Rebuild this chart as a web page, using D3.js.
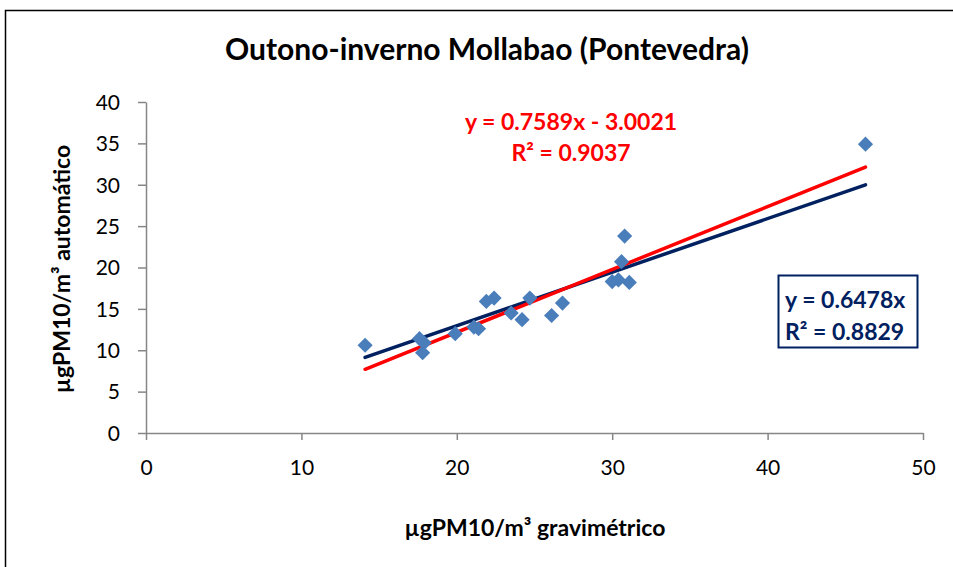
<!DOCTYPE html>
<html>
<head>
<meta charset="utf-8">
<script src="https://cdn.jsdelivr.net/npm/d3@7"></script>
<style>
  body { margin: 0; background: #fff; }
  text { font-family: Lato, "Open Sans", sans-serif; }
</style>
</head>
<body>
<div id="chart"></div>
<script>
// µgPM10/m3 gravimetric (x) vs automatic (y)
const gravimetrico = [14.1, 17.6, 17.9, 17.8, 19.9, 21.1, 21.4, 21.9, 22.4, 23.5, 24.2, 24.7, 26.1, 26.8, 30.0, 30.4, 30.6, 30.8, 31.1, 46.3];
const automatico = [10.6, 11.4, 10.9, 9.7, 12.0, 12.8, 12.6, 15.9, 16.3, 14.5, 13.7, 16.3, 14.2, 15.7, 18.3, 18.5, 20.7, 23.8, 18.2, 34.9];

const xTicks = [0, 10, 20, 30, 40, 50];
const yTicks = [0, 5, 10, 15, 20, 25, 30, 35, 40];

// fitted trend lines as printed on the chart
const linearFit = { slope: 0.7589, intercept: -3.0021, label: "y = 0.7589x - 3.0021", r2: "R² = 0.9037" };
const originFit = { slope: 0.6478, intercept: 0, label: "y = 0.6478x", r2: "R² = 0.8829" };

const width = 953;
const height = 567;
const margin = { left: 146, top: 102, right: 30, bottom: 134 };

const pointColor = "#4a7ebb";
const axisColor = "#868686";

let svg;
let xScale;
let yScale;

function createChart() {
  svg = d3.select("#chart").append("svg").attr("width", width).attr("height", height);

  svg.append("rect")
    .attr("x", 5.5).attr("y", 10.5)
    .attr("width", 1000).attr("height", 700)
    .attr("fill", "none").attr("stroke", "#000").attr("stroke-width", 1.5);

  xScale = d3.scaleLinear().domain([0, 50]).range([margin.left, width - margin.right]);
  yScale = d3.scaleLinear().domain([0, 40]).range([height - margin.bottom, margin.top]);

  createTitle();
  createAxes();
  createTrendLines();
  createPoints();
  createLabels();
}

function createTitle() {
  svg.append("text")
    .attr("x", 487).attr("y", 60)
    .attr("text-anchor", "middle")
    .attr("font-size", 30).attr("font-weight", "bold")
    .text("Outono-inverno Mollabao (Pontevedra)");
}

function createAxes() {
  const xAxis = svg.append("g")
    .attr("transform", "translate(0," + yScale(0) + ")")
    .call(d3.axisBottom(xScale).tickValues(xTicks).tickSize(7).tickPadding(20).tickSizeOuter(0));

  const yAxis = svg.append("g")
    .attr("transform", "translate(" + xScale(0) + ",0)")
    .call(d3.axisLeft(yScale).tickValues(yTicks).tickSize(8).tickPadding(18).tickSizeOuter(0));

  [xAxis, yAxis].forEach((g) => {
    g.select(".domain").attr("stroke", axisColor).attr("stroke-width", 1.5);
    g.selectAll(".tick line").attr("stroke", axisColor).attr("stroke-width", 1.5);
    g.selectAll(".tick text")
      .attr("fill", "#000")
      .attr("font-size", 21)
      .style("font-family", "Lato, sans-serif");
  });
  yAxis.selectAll(".tick text").attr("dy", "0.35em");
}

function createTrendLines() {
  const xs = d3.extent(gravimetrico);
  const line = d3.line().x((d) => xScale(d[0])).y((d) => yScale(d[1]));

  [[originFit, "#002060"], [linearFit, "#ff0000"]].forEach(([fit, color]) => {
    svg.append("path")
      .datum(xs.map((x) => [x, fit.slope * x + fit.intercept]))
      .attr("d", line)
      .attr("fill", "none")
      .attr("stroke", color)
      .attr("stroke-width", 3.5)
      .attr("stroke-linecap", "round");
  });
}

function createPoints() {
  const diamond = d3.symbol().type(d3.symbolSquare).size(115);
  svg.append("g")
    .selectAll("path")
    .data(gravimetrico.map((x, i) => [x, automatico[i]]))
    .join("path")
    .attr("d", diamond)
    .attr("transform", (d) => "translate(" + xScale(d[0]) + "," + yScale(d[1]) + ") rotate(45)")
    .attr("fill", pointColor);
}

function createLabels() {
  svg.append("text")
    .attr("x", 535).attr("y", 536)
    .attr("text-anchor", "middle")
    .attr("font-size", 23).attr("font-weight", "bold")
    .text("µgPM10/m³ gravimétrico");

  svg.append("text")
    .attr("transform", "translate(70,269) rotate(-90)")
    .attr("text-anchor", "middle")
    .attr("font-size", 23).attr("font-weight", "bold")
    .text("µgPM10/m³ automático");

  const red = svg.append("g").attr("fill", "#ff0000").attr("font-size", 23).attr("font-weight", "bold");
  red.append("text").attr("x", 571).attr("y", 130).attr("text-anchor", "middle").text(linearFit.label);
  red.append("text").attr("x", 571).attr("y", 161).attr("text-anchor", "middle").text(linearFit.r2);

  svg.append("rect")
    .attr("x", 778.5).attr("y", 275.5)
    .attr("width", 139).attr("height", 72)
    .attr("fill", "#fff").attr("stroke", "#002060").attr("stroke-width", 2);

  const blue = svg.append("g").attr("fill", "#002060").attr("font-size", 23).attr("font-weight", "bold");
  blue.append("text").attr("x", 785).attr("y", 308).text(originFit.label);
  blue.append("text").attr("x", 785).attr("y", 340).text(originFit.r2);
}

createChart();
</script>
</body>
</html>
